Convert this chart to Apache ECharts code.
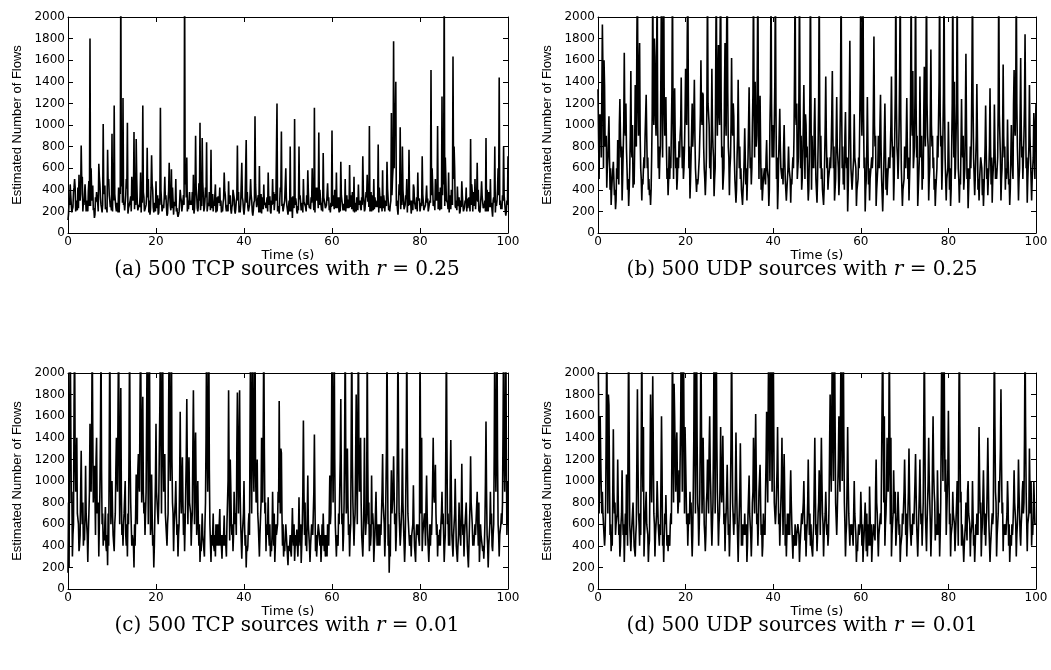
<!DOCTYPE html>
<html>
<head>
<meta charset="utf-8">
<script src="https://cdn.jsdelivr.net/npm/echarts@6/dist/echarts.min.js"></script>
<style>
html,body{margin:0;padding:0;background:#fff;}
#chart{width:1051px;height:670px;}
</style>
</head>
<body>
<div id="chart"></div>
<script>
// sample times (s): main samples every 0.5 s; q1 at +0.125 s, mid at +0.25 s, q3 at +0.375 s
const times = Array.from({length: 201}, (_, i) => i * 0.5);
const xTicks = [0, 20, 40, 60, 80, 100];
const yTicks = [0, 200, 400, 600, 800, 1000, 1200, 1400, 1600, 1800, 2000];

const captions = [
  '(a) 500 TCP sources with {i|r} = 0.25',
  '(b) 500 UDP sources with {i|r} = 0.25',
  '(c) 500 TCP sources with {i|r} = 0.01',
  '(d) 500 UDP sources with {i|r} = 0.01'
];

// ---- (a) 500 TCP, r = 0.25 ----
const tcp025 = [120,450,220,500,250,540,810,280,460,200,1800,300,140,380,640,260,1010,220,770,300,
920,1180,200,420,2400,1250,200,1020,250,520,935,870,210,560,1180,220,790,300,720,190,
480,170,1160,190,520,160,650,590,170,500,150,400,250,2400,700,220,300,540,900,200,
1020,880,230,840,250,770,200,450,190,420,230,560,200,480,220,400,180,810,250,650,
170,860,200,500,160,1080,240,620,180,450,230,560,200,500,220,1200,180,940,200,600,
170,800,140,1055,200,800,210,500,240,580,250,600,1160,300,930,260,740,230,460,250,
950,220,560,240,660,210,500,230,630,220,520,200,450,230,710,220,540,990,200,500,
240,820,230,580,200,660,250,1110,1775,1400,170,980,800,220,500,770,180,450,220,560,
200,710,230,440,190,1510,250,500,990,210,1265,2400,300,560,220,1635,250,430,180,480,
200,420,230,870,200,500,650,220,480,230,880,200,500,150,800,300,1440,250,800,160,710];
const tcp025Q1 = [180,350,240,420,210,330,480,260,200,390, 250,440,170,300,520,230,380,210,450,240,
200,360,280,190,430,260,350,180,300,410, 220,500,260,190,380,240,330,170,450,280,
230,190,400,260,310,180,350,230,290,200, 170,330,240,450,200,380,260,180,420,250,
210,470,300,200,380,230,290,190,340,250, 200,390,230,270,180,360,220,300,190,330,
230,280,190,350,210,450,240,190,330,260, 220,300,180,270,360,200,300,250,190,330,
240,200,340,260,180,310,230,290,200,380, 220,350,190,420,260,210,330,240,300,190,
250,400,230,190,350,270,200,310,240,380, 190,330,260,210,380,230,290,200,350,220,
260,190,340,230,300,410,200,350,600,250, 300,220,400,260,190,330,240,420,210,300,
190,360,230,280,200,350,260,300,220,420, 350,250,300,190,400,500,230,280,200,350,
240,200,330,260,380,220,290,190,340,250, 200,380,240,300,190,410,260,220,350,200];
const tcp025Mid = [300,260,380,200,420,300,520,350,240,480, 600,210,330,280,450,190,360,240,500,260,
650,300,250,380,700,280,500,230,340,300, 400,280,240,380,330,260,500,220,400,280,
250,320,400,230,350,300,250,420,280,230, 200,300,350,600,300,260,380,220,350,460,
300,350,420,250,360,300,250,330,280,300, 280,350,260,310,240,330,300,380,270,300,
300,380,260,300,280,320,350,260,300,280, 330,260,300,380,300,250,420,270,300,250,
300,280,300,320,250,350,280,300,350,260, 330,300,420,350,400,280,300,260,330,280,
350,300,280,330,300,250,300,280,350,300, 280,300,250,330,300,380,400,300,280,330,
300,420,280,350,300,320,260,500,1200,300, 450,380,300,350,400,260,300,280,330,300,
280,350,260,320,300,600,300,420,380,300, 600,700,280,350,300,800,300,250,300,260,
300,320,280,450,300,350,400,260,330,300, 400,300,280,330,300,600,300,350,280,300];
const tcp025Q3 = [260,190,420,300,230,360,200,450,300,250, 380,230,290,200,330,260,440,190,350,210,
300,240,190,360,280,210,410,250,200,330, 260,210,340,280,200,350,190,420,240,200,
350,260,200,330,240,390,210,300,250,180, 290,200,260,330,220,300,210,350,230,300,
250,200,330,280,210,360,240,200,310,190, 320,240,200,350,260,210,330,190,280,220,
300,240,350,200,300,240,190,360,220,280, 200,340,260,210,300,230,380,200,290,240,
200,330,230,280,210,350,190,300,260,230, 280,210,360,230,320,200,270,350,210,240,
300,230,330,200,260,210,350,230,290,200, 250,210,300,260,200,330,240,380,210,280,
240,330,200,290,250,210,300,600,1000,220, 350,260,220,330,250,300,210,260,200,320,
250,210,330,200,280,450,210,300,260,220, 450,500,220,300,260,600,210,330,240,200,
280,230,200,380,250,300,210,350,230,200, 330,240,210,280,250,350,220,300,210,260];

// ---- (b) 500 UDP, r = 0.25 ----
const udp025 = [1330,900,1930,1360,420,1080,260,660,220,860,1240,300,1670,780,250,1500,420,1370,2400,1760,
300,700,1280,400,260,2400,1630,2400,500,2400,2400,1260,350,700,2400,1340,400,850,1440,500,
1520,2400,320,1200,1420,380,600,1600,1280,350,2400,600,1520,340,2400,1740,2400,400,1760,2400,
350,1620,1080,280,1420,500,260,970,300,1350,450,2400,900,2400,1270,300,600,860,250,2400,
800,2400,220,1150,500,1000,300,800,280,700,2400,500,2400,400,1370,1000,300,2400,600,1250,
280,2400,500,260,1450,400,700,1500,300,1260,350,2400,450,1120,200,1780,400,1100,250,700,
2400,2400,200,1260,300,700,1820,250,900,1280,200,1200,350,700,1450,300,2400,500,2400,250,
800,1250,300,2400,600,2400,250,1450,400,1540,2400,300,1700,600,250,900,2400,400,2400,300,
1030,250,2400,500,2400,280,1240,400,1660,230,800,2400,350,1380,300,700,250,1180,350,1340,
280,1190,500,2400,300,1560,400,1050,260,700,1510,2400,300,1620,500,1840,280,1370,300,1110,1200];
const udp025Q1 = [900,1100,1500,800,600,700,400,500,300,700, 900,500,1000,600,400,800,600,900,1200,900,
500,600,900,500,400,1200,1100,1000,700,1300, 1200,800,500,600,1100,900,500,700,900,600,
1100,1300,500,800,900,500,700,1100,800,500, 1200,700,1000,500,1300,1100,1200,500,1100,1300,
600,1000,700,400,900,600,400,700,500,900, 600,1200,800,1100,800,400,500,600,400,1200,
700,1200,400,800,600,700,400,600,500,600, 1100,600,1200,500,900,700,400,1200,700,800,
500,1100,600,400,900,500,600,900,400,800, 500,1200,600,700,400,1000,500,700,400,600,
1200,1100,400,800,500,600,1000,400,700,800, 400,800,500,600,900,500,1200,700,1100,400,
700,800,500,1100,700,1200,400,900,600,1000, 1200,500,1000,700,400,700,1100,600,1200,500,
700,400,1100,600,1200,500,800,500,1000,400, 600,1200,500,900,500,600,400,800,500,800,
500,800,600,1100,500,900,600,700,400,600, 1000,1200,500,1000,700,1100,500,900,500,800];
const udp025Mid = [500,700,600,800,700,400,500,350,600,450, 700,500,900,400,600,700,450,800,900,600,
450,900,600,350,700,1000,900,600,800,700, 900,500,800,600,500,600,700,900,600,800,
1000,600,700,800,600,450,900,1000,600,700, 1100,500,800,600,900,1000,700,600,900,800,
700,900,500,700,600,400,500,450,700,600, 1000,700,900,500,400,500,450,600,1000,700,
1000,500,700,600,450,500,400,600,450,900, 1000,700,600,700,500,800,700,400,600,500,
800,600,400,700,600,500,800,600,500,700, 900,600,400,600,700,600,500,700,400,1000,
900,600,500,450,500,700,800,400,600,500, 600,400,500,600,700,900,800,1000,600,400,
600,500,700,900,800,700,400,700,500,800, 900,600,800,400,500,700,800,900,700,500,
400,800,700,900,600,450,700,600,500,600, 900,700,500,400,500,350,600,500,600,450,
600,500,700,900,600,700,500,450,400,500, 900,800,600,700,900,600,500,700,600,500];
const udp025Q3 = [1100,1300,1600,900,700,600,500,400,500,1000, 800,1000,1200,500,900,1000,800,1800,1500,500,
600,900,700,400,1100,1800,1500,800,1600,1700, 900,600,500,1300,1200,700,600,1000,800,1100,
1800,800,700,1100,600,500,1100,1300,500,1300, 1000,900,700,1500,1400,1800,800,1300,1900,700,
1000,1200,500,900,800,400,700,600,1000,700, 1300,1400,1600,1000,600,500,700,500,1300,1000,
1400,700,700,600,800,500,600,500,600,1500, 1200,1300,900,1000,1100,500,1300,900,1000,500,
1200,900,400,1000,700,600,1100,800,900,600, 1300,800,900,700,1200,600,700,600,500,1500,
1600,700,800,600,500,1200,900,600,1000,500, 600,600,700,1000,800,1300,700,1500,600,500,
900,700,1300,1500,1300,900,700,900,1100,1500, 800,1100,900,500,600,1400,900,1300,700,600,
600,1200,1400,1200,500,800,900,1100,600,500, 1500,700,900,500,700,500,800,600,800,700,
700,600,1200,700,900,800,600,500,1000,1200, 1300,600,1100,800,1200,700,800,500,700,1000];

// ---- (c) 500 TCP, r = 0.01 ----
const tcp001 = [150,2400,300,2400,1400,350,1280,400,1140,250,1530,2400,1140,1400,300,2400,400,760,220,2400,
1000,350,1400,2400,1860,400,1000,300,2400,400,200,1060,1250,2400,1780,500,2400,2400,1060,200,
1530,600,2400,2400,1250,400,2400,2400,350,1000,300,1640,1220,350,1760,1220,400,1840,1450,1000,
250,700,300,2400,2400,250,700,300,600,740,280,680,300,1840,940,350,600,1820,1840,280,
1000,200,600,2400,2400,2400,1200,300,1400,2400,350,850,300,900,250,500,1740,1260,300,600,
220,500,750,260,550,850,240,1560,400,1050,250,600,1430,300,550,250,700,300,600,1050,
2400,2400,300,700,1760,350,2400,1300,300,2400,400,1800,2400,1400,300,700,2400,350,1050,250,
900,400,600,1250,300,2400,150,1100,1230,350,2400,400,1300,250,2400,500,300,960,250,600,
2400,350,700,1050,250,600,1400,1150,300,550,900,250,2400,400,1380,300,1020,250,600,1160,
300,800,200,1230,400,600,900,250,500,280,1550,200,900,350,2400,2400,300,700,2400,2400,1000];
const tcp001Q1 = [800,1600,500,1200,700,400,800,500,700,500, 1000,1500,900,700,600,1100,500,400,700,1200,
700,600,1100,1300,900,600,500,700,1200,500, 600,800,1000,1500,900,700,1500,1200,700,400,
900,800,1400,1300,700,600,1300,1200,600,700, 500,900,800,600,1100,800,600,1200,900,600,
400,500,600,1300,1100,500,400,600,500,400, 500,400,600,1000,600,500,700,1100,900,500,
600,400,700,1300,1200,1100,700,500,900,1300, 600,500,400,600,400,600,1000,700,400,500,
400,350,500,400,400,500,400,900,500,600, 400,500,800,400,500,400,500,400,500,600,
1300,1200,500,600,1000,500,1300,800,500,1200, 600,1000,1200,800,500,500,1200,600,600,400,
600,500,500,800,500,1200,400,700,900,500, 1300,500,800,400,1200,400,500,600,500,500,
1300,500,600,700,400,500,900,700,500,400, 600,400,1300,600,900,500,700,400,500,700,
500,600,400,800,500,500,600,400,500,400, 900,400,600,500,1300,1200,500,600,1200,1300];
const tcp001Mid = [200,800,600,900,700,500,600,450,700,500, 900,800,500,700,900,600,450,350,400,600,
500,700,900,600,500,700,400,600,800,500, 400,600,900,800,700,900,600,500,400,700,
900,800,700,900,600,700,1000,800,600,500, 600,700,500,900,600,800,700,600,500,400,
350,500,800,900,600,400,350,500,400,500, 400,500,600,450,500,900,500,700,600,500,
400,350,500,700,900,800,600,500,800,700, 500,400,350,400,600,900,700,400,350,400,
350,300,400,500,300,400,600,500,350,500, 400,700,350,500,400,600,350,500,400,700,
800,600,500,900,600,800,700,500,600,800, 700,600,900,500,800,500,600,400,700,500,
400,600,500,700,500,400,300,700,600,800, 700,500,600,800,700,400,500,400,600,450,
700,500,400,500,600,700,800,500,400,600, 700,500,600,400,500,600,400,500,400,500,
500,400,600,700,400,500,400,600,350,600, 500,400,700,600,900,600,500,800,900,500];
const tcp001Q3 = [1500,900,1700,1000,600,900,800,700,500,900, 1400,1000,1200,800,1400,700,600,500,1300,900,
500,1100,1700,1100,600,700,600,1300,800,400, 700,1100,1800,1300,800,1600,1700,600,500,1000,
900,1700,1600,900,600,1700,1500,700,800,600, 1000,1000,700,1200,1000,700,1300,1200,700,600,
500,500,1400,1500,600,500,500,400,600,500, 500,500,1000,1200,600,700,1300,1300,600,700,
500,400,1500,1600,1500,900,600,800,1500,800, 600,600,500,700,500,800,1300,600,500,400,
400,500,600,400,500,600,900,800,700,400, 600,900,500,600,500,400,500,300,700,1300,
1500,600,400,1200,700,1400,900,600,1500,800, 1200,1500,1000,400,1400,700,800,500,600,500,
600,400,900,600,1300,600,800,900,700,1400, 700,800,600,1300,700,500,600,400,500,400,
1400,500,800,500,400,1000,800,600,400,700, 500,1400,700,1000,500,700,400,800,700,600,
500,400,800,600,400,500,800,500,400,1000, 400,600,400,1300,1400,500,600,1500,1300,700];

// ---- (d) 500 UDP, r = 0.01 ----
const udp001 = [2400,1600,900,400,2400,1700,350,1480,500,1200,300,1100,250,1060,2400,350,800,300,1850,400,
2400,300,900,250,1800,1970,300,1000,400,1600,250,870,350,600,2400,1600,1450,1100,2400,2400,
1200,400,900,300,2400,2400,400,2400,1400,350,1200,1600,400,2400,2400,400,1500,1420,350,1150,
300,2400,500,1450,250,1350,400,700,250,1050,300,1400,1620,400,1150,300,600,1640,2400,2400,
2400,600,1500,400,1400,1250,300,700,1100,280,600,500,250,700,1000,300,1200,400,300,1400,
350,1100,1400,300,900,400,1800,2400,2400,500,1600,2400,2400,300,1500,400,600,1000,250,600,
900,250,800,300,950,250,600,1200,300,700,2400,400,1400,2400,300,1100,400,900,250,700,
1200,300,1300,400,700,1250,300,1200,400,2400,350,1400,300,1600,450,1100,300,2400,2400,500,
1650,300,900,350,1000,2400,400,250,800,1000,300,1000,250,700,1500,300,1100,400,1400,250,
700,2400,300,1000,1850,350,600,1000,250,600,1100,300,1200,400,1000,2400,350,1300,400,1000,600];
const udp001Q1 = [1800,1200,700,500,1400,1000,500,900,600,800, 400,700,500,800,1400,500,600,500,1200,700,
1300,500,600,400,1200,1300,500,800,600,1100, 500,600,500,700,1500,1200,1000,800,1500,1600,
900,600,700,500,1500,1400,600,1500,1000,500, 900,1100,600,1500,1400,600,1000,1000,600,800,
500,1500,700,1000,500,900,600,500,400,700, 500,1000,1100,600,800,400,500,1100,1500,1600,
1500,700,1000,600,900,900,500,600,800,500, 500,600,400,600,700,500,800,600,500,900,
500,800,1000,500,700,500,1200,1500,1600,700, 1100,1500,1400,500,1000,600,500,700,400,500,
700,400,600,500,700,400,500,800,500,600, 1500,600,1000,1500,500,800,500,700,400,600,
900,500,900,600,600,900,500,800,600,1500, 600,1000,500,1100,600,800,500,1500,1500,700,
1100,500,700,500,800,1500,600,400,600,700, 500,700,400,600,1000,500,800,600,1000,400,
600,1500,500,800,1200,600,500,800,400,500, 800,500,900,600,700,1500,600,900,600,800];
const udp001Mid = [700,900,600,800,700,500,400,700,600,500, 600,500,700,400,600,500,400,600,700,500,
900,500,600,450,800,700,500,600,500,400, 700,400,500,600,800,900,700,800,900,700,
600,700,800,900,700,800,900,700,600,800, 700,900,800,700,900,700,800,600,700,500,
900,800,600,700,500,400,600,500,700,600, 800,700,600,900,500,700,900,800,1000,900,
800,700,600,800,500,400,700,500,600,450, 400,600,500,700,450,600,500,400,600,500,
700,500,700,600,500,800,900,1000,800,700, 900,1000,800,600,700,500,400,600,350,500,
400,500,350,600,400,500,450,700,500,600, 800,700,900,600,500,700,600,500,400,600,
500,700,600,500,800,600,700,600,800,700, 600,800,700,900,600,500,800,1000,900,700,
600,500,700,500,400,800,600,500,450,700, 500,400,600,500,700,600,500,700,600,500,
700,900,600,800,700,500,600,400,500,600, 700,600,900,700,800,900,600,700,500,600];
const udp001Q3 = [1100,700,500,1500,1800,600,900,800,700,600, 700,600,500,1500,600,500,400,1200,600,1400,
1500,500,500,1100,1400,600,700,500,1000,500, 600,500,400,1300,1900,1300,800,1600,1800,1500,
700,600,500,1400,1700,700,1500,1000,500,900, 1300,600,1400,1800,700,1000,1000,700,900,600,
1400,800,1000,700,900,600,500,600,700,500, 900,1200,700,900,600,500,1200,1800,1600,1900,
800,1100,700,1000,1000,600,500,900,600,400, 500,500,500,800,600,800,700,400,1000,600,
800,1000,600,700,600,1300,1600,1700,800,1200, 1700,1600,600,1000,700,500,700,500,500,600,
600,500,700,400,600,600,900,700,500,600, 1600,900,1200,1400,700,900,700,600,500,900,
700,900,500,700,1000,600,900,700,1500,700, 1000,600,1200,800,500,700,1600,1800,1200,1100,
700,600,600,800,1600,900,400,600,900,600, 600,500,500,1000,800,600,700,1000,600,500,
1500,800,700,1300,800,500,700,600,400,800, 600,800,500,900,1400,900,700,1000,700,600];

const panels = [
  {main: tcp025, q1: tcp025Q1, mid: tcp025Mid, q3: tcp025Q3},
  {main: udp025, q1: udp025Q1, mid: udp025Mid, q3: udp025Q3},
  {main: tcp001, q1: tcp001Q1, mid: tcp001Mid, q3: tcp001Q3},
  {main: udp001, q1: udp001Q1, mid: udp001Mid, q3: udp001Q3}
];

function buildPoints(p) {
  const pts = [];
  times.forEach((t, i) => {
    pts.push([t, p.main[i]]);
    if (i < 200) {
      pts.push([t + 0.125, p.q1[i]]);
      pts.push([t + 0.25, p.mid[i]]);
      pts.push([t + 0.375, p.q3[i]]);
    }
  });
  return pts;
}

const grids = [
  {left: 68, top: 17, width: 440, height: 216},
  {left: 598, top: 17, width: 438, height: 216},
  {left: 68, top: 373, width: 440, height: 216},
  {left: 598, top: 373, width: 438, height: 216}
];
const captionPos = [[287, 270], [802, 270], [287, 626], [802, 626]];

const axisFont = {fontFamily: 'DejaVu Sans', fontSize: 12, color: '#000'};
const lineStyle = {color: '#000', width: 1};

const xAxes = [], yAxes = [], series = [], titles = [];
grids.forEach((g, k) => {
  xAxes.push({
    type: 'value', gridIndex: k, min: 0, max: 100, interval: 20, position: 'bottom',
    name: 'Time (s)', nameLocation: 'middle', nameGap: 10,
    nameTextStyle: {fontFamily: 'DejaVu Sans', fontSize: 13, color: '#000'},
    axisLine: {show: true, onZero: false, lineStyle},
    axisTick: {show: true, inside: true, length: 5, lineStyle},
    axisLabel: Object.assign({margin: 3, formatter: v => String(v)}, axisFont),
    splitLine: {show: false}
  });
  xAxes.push({
    type: 'value', gridIndex: k, min: 0, max: 100, interval: 20, position: 'top',
    axisLine: {show: true, onZero: false, lineStyle},
    axisTick: {show: true, inside: true, length: 5, lineStyle},
    axisLabel: {show: false}, splitLine: {show: false}
  });
  yAxes.push({
    type: 'value', gridIndex: k, min: 0, max: 2000, interval: 200, position: 'left',
    name: 'Estimated Number of Flows', nameLocation: 'middle', nameGap: 44,
    nameTextStyle: {fontFamily: 'Liberation Sans', fontSize: 13, color: '#000'},
    axisLine: {show: true, onZero: false, lineStyle},
    axisTick: {show: true, inside: true, length: 5, lineStyle},
    axisLabel: Object.assign({margin: 3, formatter: v => String(v)}, axisFont),
    splitLine: {show: false}
  });
  yAxes.push({
    type: 'value', gridIndex: k, min: 0, max: 2000, interval: 200, position: 'right',
    axisLine: {show: true, onZero: false, lineStyle},
    axisTick: {show: true, inside: true, length: 5, lineStyle},
    axisLabel: {show: false}, splitLine: {show: false}
  });
  series.push({
    type: 'line', xAxisIndex: 2 * k, yAxisIndex: 2 * k,
    data: buildPoints(panels[k]),
    showSymbol: false, clip: true, silent: true,
    lineStyle: {color: '#000', width: 1.6}
  });
  titles.push({
    text: captions[k], left: captionPos[k][0], top: captionPos[k][1],
    textAlign: 'center', textVerticalAlign: 'middle', padding: 0,
    textStyle: {
      fontFamily: 'DejaVu Serif', fontSize: 20, fontWeight: 'normal', color: '#000',
      rich: {i: {fontFamily: 'DejaVu Serif', fontStyle: 'italic', fontSize: 20, color: '#000'}}
    }
  });
});

const chart = echarts.init(document.getElementById('chart'), null, {renderer: 'canvas'});
chart.setOption({
  animation: false,
  backgroundColor: '#fff',
  title: titles,
  grid: grids.map(g => Object.assign({containLabel: false}, g)),
  xAxis: xAxes,
  yAxis: yAxes,
  series: series
});
</script>
</body>
</html>
